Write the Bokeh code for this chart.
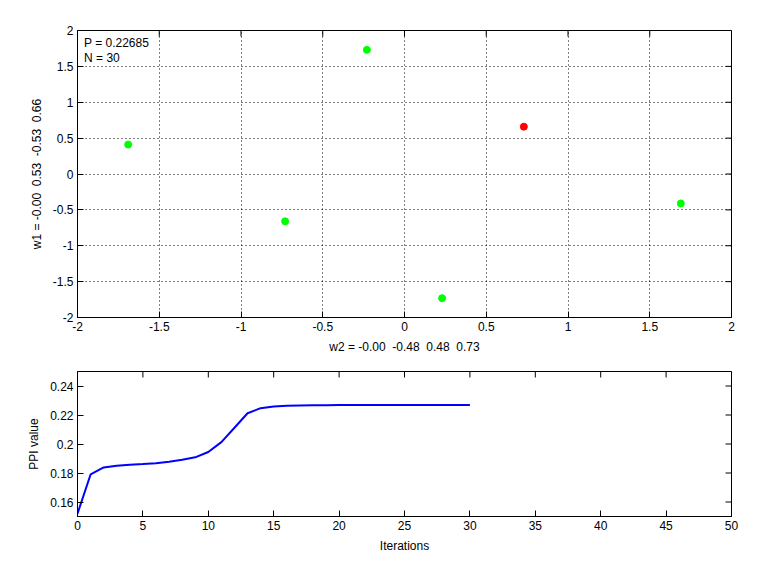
import math
from bokeh.plotting import figure
from bokeh.layouts import column
from bokeh.models import Range1d, Label, FixedTicker
from bokeh.embed import file_html
from bokeh.resources import INLINE

# ---- data ----
w2_green = [-1.69, -0.73, -0.23, 1.69, 0.23]
w1_green = [0.41, -0.66, 1.73, -0.41, -1.73]
w2_red = [0.73]
w1_red = [0.66]
p_value = 0.22685
n_value = 30
x_label = "w2 = -0.00 \u00a0-0.48 \u00a00.48 \u00a00.73"
y_label = "w1 = -0.00 \u00a00.53 \u00a0-0.53 \u00a00.66"

iterations = list(range(0, 31))
ppi = [0.152, 0.179, 0.1838, 0.185, 0.1857, 0.1862, 0.1868, 0.1877, 0.1891,
       0.1908, 0.1945, 0.2013, 0.2112, 0.2212, 0.2247, 0.2259, 0.2264, 0.2266,
       0.22675, 0.2268, 0.22683, 0.22684, 0.22685, 0.22685, 0.22685, 0.22685,
       0.22685, 0.22685, 0.22685, 0.22685, 0.22685]

top_xticks = [-2, -1.5, -1, -0.5, 0, 0.5, 1, 1.5, 2]
top_yticks = [-2, -1.5, -1, -0.5, 0, 0.5, 1, 1.5, 2]
bot_xticks = [0, 5, 10, 15, 20, 25, 30, 35, 40, 45, 50]
bot_yticks = [0.16, 0.18, 0.2, 0.22, 0.24]

FONT = "Liberation Sans"
FS = "12px"


def style_axis(ax, ticks):
    ax.ticker = FixedTicker(ticks=ticks)
    ax.major_tick_in = 6
    ax.major_tick_out = 0
    ax.minor_tick_in = 0
    ax.minor_tick_out = 0
    ax.axis_line_color = "black"
    ax.major_tick_line_color = "black"
    ax.major_label_text_font = FONT
    ax.major_label_text_font_size = FS
    ax.major_label_text_color = "black"
    ax.major_label_standoff = 4
    ax.axis_label_text_font = FONT
    ax.axis_label_text_font_size = FS
    ax.axis_label_text_font_style = "normal"
    ax.axis_label_text_color = "black"
    ax.axis_label_standoff = 6
    ax.major_label_overrides = {t: ("%g" % t) for t in ticks}


def make_fig(xr, yr, fh, top, bottom):
    f = figure(output_backend="svg", toolbar_location=None,
               frame_width=654, frame_height=fh,
               x_range=Range1d(*xr), y_range=Range1d(*yr),
               min_border_left=77, min_border_right=30,
               min_border_top=top, min_border_bottom=bottom)
    f.outline_line_color = "black"
    f.outline_line_alpha = 1.0
    f.outline_line_width = 1
    f.background_fill_color = "white"
    f.border_fill_color = "white"
    return f


def mirror_ticks(f, xticks, yticks, xr, yr):
    # inward tick marks on the top and right edges (clipped to the frame)
    f.scatter(xticks, [yr[1]] * len(xticks), marker="dash", angle=math.pi / 2,
              size=12, line_color="black", line_width=1)
    f.scatter([xr[1]] * len(yticks), yticks, marker="dash",
              size=12, line_color="black", line_width=1)


# ---- top plot ----
xr1, yr1 = (-2, 2), (-2, 2)
p1 = make_fig(xr1, yr1, 287, 30, 40)
style_axis(p1.xaxis[0], top_xticks)
style_axis(p1.yaxis[0], top_yticks)
p1.xaxis[0].axis_label = x_label
p1.yaxis[0].axis_label = y_label
p1.xgrid.ticker = FixedTicker(ticks=top_xticks)
p1.ygrid.ticker = FixedTicker(ticks=top_yticks)
for g in (p1.xgrid[0], p1.ygrid[0]):
    g.grid_line_color = "black"
    g.grid_line_dash = "1 3"
    g.grid_line_width = 1
    g.grid_line_alpha = 1.0
mirror_ticks(p1, top_xticks, top_yticks, xr1, yr1)

p1.scatter(w2_red, w1_red, size=7, color="#ff0000")
p1.scatter(w2_green, w1_green, size=7, color="#00ff00")

p1.add_layout(Label(x=-1.96, y=1.82, text="P = %s" % p_value,
                    text_font=FONT, text_font_size=FS, text_color="black",
                    text_baseline="middle"))
p1.add_layout(Label(x=-1.96, y=1.61, text="N = %d" % n_value,
                    text_font=FONT, text_font_size=FS, text_color="black",
                    text_baseline="middle"))

# ---- bottom plot ----
xr2, yr2 = (0, 50), (0.15, 0.25)
p2 = make_fig(xr2, yr2, 145, 14, 40)
style_axis(p2.xaxis[0], bot_xticks)
style_axis(p2.yaxis[0], bot_yticks)
p2.xaxis[0].axis_label = "Iterations"
p2.yaxis[0].axis_label = "PPI value"
p2.xgrid.visible = False
p2.ygrid.visible = False
mirror_ticks(p2, bot_xticks, bot_yticks, xr2, yr2)

p2.line(iterations, ppi, line_color="#0000ff", line_width=2)

layout = column(p1, p2, spacing=0)
open("out.html", "w").write(file_html(layout, INLINE))
